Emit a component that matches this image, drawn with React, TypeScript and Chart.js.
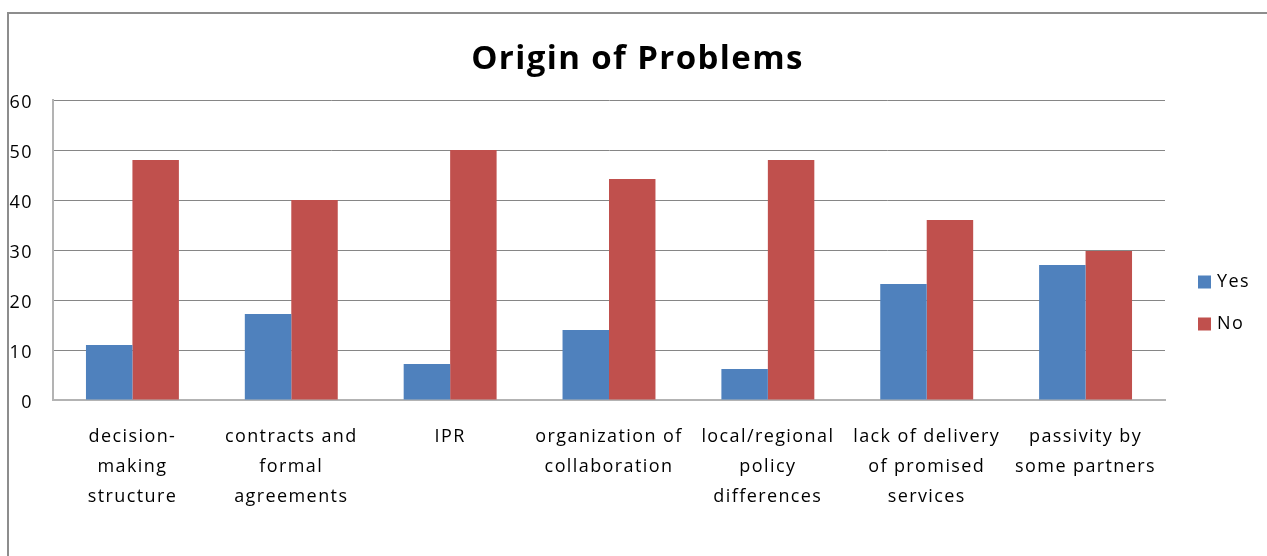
import React, { useEffect, useRef } from "react";
import { Chart, registerables } from "chart.js";

Chart.register(...registerables);

const TITLE = "Origin of Problems";
const categories: string[][] = [
  ["decision-", "making", "structure"],
  ["contracts and", "formal", "agreements"],
  ["IPR"],
  ["organization of", "collaboration"],
  ["local/regional", "policy", "differences"],
  ["lack of delivery", "of promised", "services"],
  ["passivity by", "some partners"],
];
const seriesNames = ["Yes", "No"];
const yesValues = [11, 17.2, 7.2, 14, 6.2, 23.2, 27];
const noValues = [48, 40, 50, 44.2, 48, 36, 29.8];
const seriesColors = ["#4F81BD", "#C0504D"];
const yTicksMin = 0;
const yTicksMax = 60;
const yTickStep = 10;

const FONT = "'Open Sans', 'DejaVu Sans', sans-serif";

const spacingPlugin = {
  id: "letterSpacing",
  beforeDraw(chart: any) {
    (chart.ctx as any).letterSpacing = "1.4px";
  },
};

const legendPlugin = {
  id: "sideLegend",
  afterDraw(chart: any) {
    const ctx = chart.ctx;
    const area = chart.chartArea;
    const ds = chart.data.datasets;
    const x0 = area.right + 33;
    const gap = 42;
    const midY = area.top + 203;
    const startY = midY - ((ds.length - 1) * gap) / 2;
    ctx.save();
    ctx.font = `18px ${FONT}`;
    ctx.textBaseline = "middle";
    ctx.textAlign = "left";
    ds.forEach((d: any, i: number) => {
      const cy = startY + i * gap;
      ctx.fillStyle = d.backgroundColor;
      ctx.fillRect(x0, cy - 6.5, 13, 13);
      ctx.fillStyle = "#000";
      ctx.fillText(d.label, x0 + 19, cy);
    });
    ctx.restore();
  },
};

export default function App() {
  const ref = useRef<HTMLCanvasElement | null>(null);
  useEffect(() => {
    if (!ref.current) return;
    const chart = new Chart(ref.current, {
      type: "bar",
      data: {
        labels: categories,
        datasets: [
          { label: seriesNames[0], data: yesValues, backgroundColor: seriesColors[0] },
          { label: seriesNames[1], data: noValues, backgroundColor: seriesColors[1] },
        ],
      },
      plugins: [spacingPlugin, legendPlugin],
      options: {
        responsive: false,
        animation: false,
        devicePixelRatio: 1,
        layout: { padding: { left: 8, right: 0, top: 0, bottom: 0 } },
        datasets: {
          bar: { categoryPercentage: 0.585, barPercentage: 1 },
        },
        plugins: {
          legend: { display: false },
          tooltip: { enabled: false },
          title: {
            display: true,
            text: TITLE,
            color: "#000",
            font: { family: FONT, size: 33, weight: "bold", lineHeight: "40px" },
            padding: { top: 39.5, bottom: 20.5 },
          },
        },
        scales: {
          x: {
            grid: { display: false, drawTicks: false },
            border: { display: true, color: "#b3b3b3", width: 2 },
            ticks: {
              color: "#000",
              font: { family: FONT, size: 18, lineHeight: "30px" },
              padding: 22,
              maxRotation: 0,
              autoSkip: false,
            },
            afterFit(scale: any) {
              scale.height = 156;
            },
          },
          y: {
            min: yTicksMin,
            max: yTicksMax,
            grid: { color: "#868686", lineWidth: 1, drawTicks: false },
            border: { display: true, color: "#b3b3b3", width: 2 },
            ticks: {
              stepSize: yTickStep,
              color: "#000",
              font: { family: FONT, size: 18 },
              padding: 20,
              labelOffset: 3,
            },
            afterFit(scale: any) {
              scale.width = 45;
            },
          },
          legendSpace: {
            axis: "y",
            position: "right",
            display: true,
            grid: { display: false, drawTicks: false },
            border: { display: false },
            ticks: { display: false },
            afterFit(scale: any) {
              scale.width = 102;
            },
          },
        },
      },
    });
    return () => chart.destroy();
  }, []);

  return (
    <div style={{ position: "absolute", left: 0, top: 0, width: 1267, height: 556, overflow: "hidden", background: "#fff" }}>
      <div
        style={{
          position: "absolute",
          left: 7,
          top: 12,
          width: 1400,
          height: 700,
          borderLeft: "2px solid #8d8d8d",
          borderTop: "2px solid #8d8d8d",
        }}
      />
      <canvas ref={ref} width={1267} height={556} style={{ position: "absolute", left: 0, top: 0 }} />
    </div>
  );
}
